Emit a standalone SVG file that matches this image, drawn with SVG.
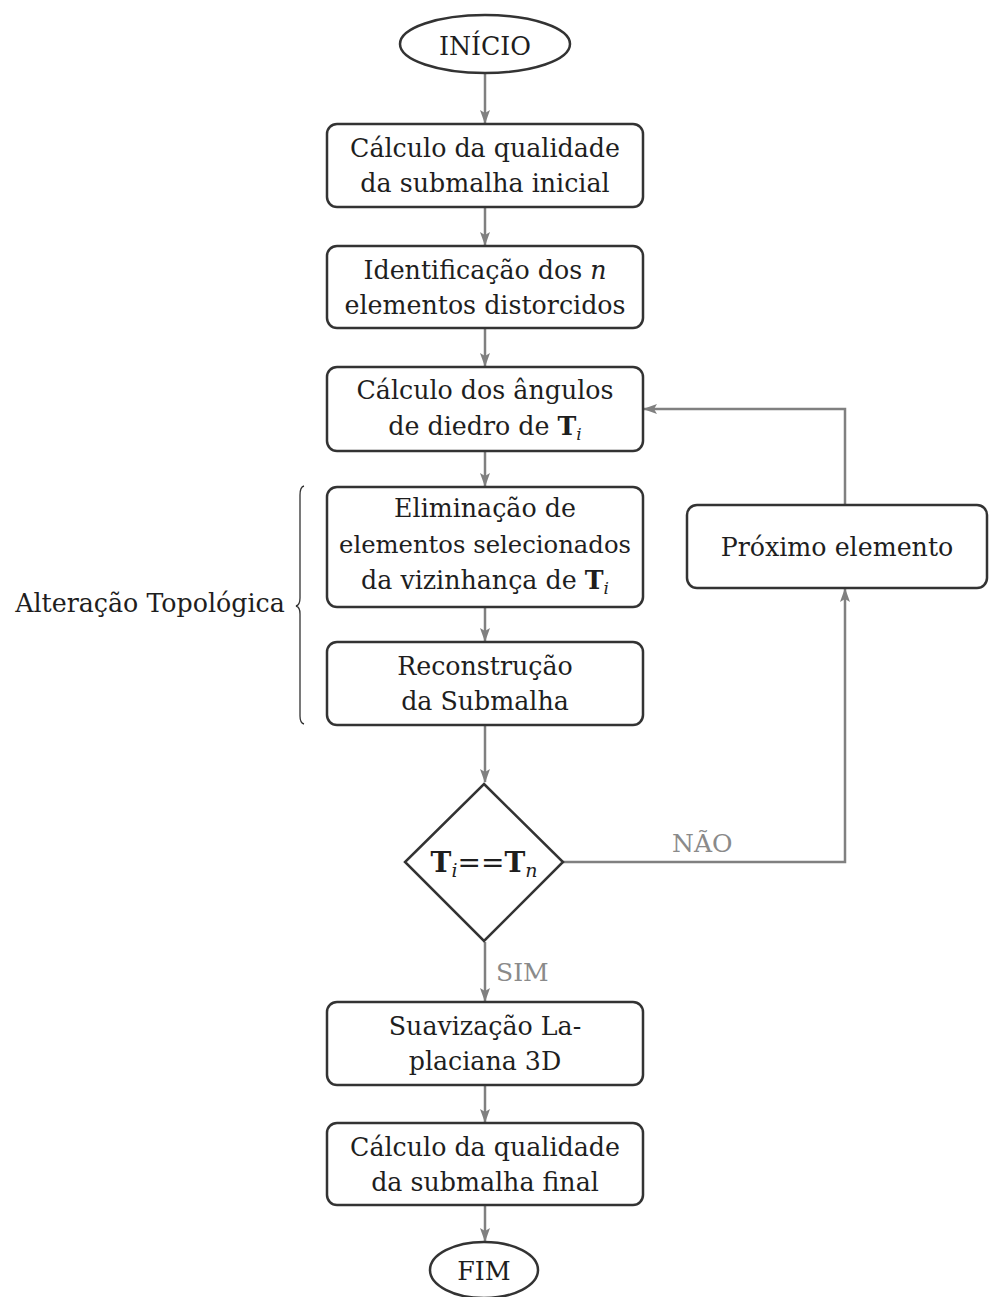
<svg xmlns="http://www.w3.org/2000/svg" width="990" height="1297" viewBox="0 0 990 1297">
<style>
.box{fill:#fff;stroke:#333;stroke-width:2.5}
.t{font-family:"DejaVu Serif","Liberation Serif",serif;font-size:25.3px;fill:#1e1e1e;text-anchor:middle}
.lbl{font-family:"DejaVu Serif","Liberation Serif",serif;font-size:25px;fill:#8a8a8a}
.c{fill:none;stroke:#808080;stroke-width:2.5}
.b{font-weight:bold}
.s{font-style:italic;font-size:17px}
</style>
<defs>
<marker id="ah" markerUnits="userSpaceOnUse" markerWidth="14" markerHeight="12" viewBox="0 0 14 12" refX="13" refY="6" orient="auto">
<path d="M0,1 L14,6 L0,11 L3,6 Z" fill="#808080"/>
</marker>
</defs>
<rect width="990" height="1297" fill="#fff"/>
<g id="connectors">
<line class="c" x1="485" y1="74" x2="485" y2="123" marker-end="url(#ah)"/>
<line class="c" x1="485" y1="208" x2="485" y2="245" marker-end="url(#ah)"/>
<line class="c" x1="485" y1="329" x2="485" y2="366" marker-end="url(#ah)"/>
<line class="c" x1="485" y1="452" x2="485" y2="486" marker-end="url(#ah)"/>
<line class="c" x1="485" y1="608" x2="485" y2="641" marker-end="url(#ah)"/>
<line class="c" x1="485" y1="726" x2="485" y2="782" marker-end="url(#ah)"/>
<line class="c" x1="485" y1="942" x2="485" y2="1001" marker-end="url(#ah)"/>
<line class="c" x1="485" y1="1086" x2="485" y2="1122" marker-end="url(#ah)"/>
<line class="c" x1="485" y1="1206" x2="485" y2="1241" marker-end="url(#ah)"/>
<polyline class="c" points="563,862 845,862 845,589" marker-end="url(#ah)"/>
<polyline class="c" points="845,505 845,409 644,409" marker-end="url(#ah)"/>
<text class="lbl" x="672" y="852">NÃO</text>
<text class="lbl" x="496" y="981">SIM</text>
</g>
<g id="inicio">
<ellipse class="box" cx="485" cy="44" rx="85" ry="29"/>
<text class="t" x="485" y="55">INÍCIO</text>
</g>
<g id="calc-inicial">
<rect class="box" x="327" y="124" width="316" height="83" rx="10"/>
<text class="t" x="485" y="157">Cálculo da qualidade</text>
<text class="t" x="485" y="192">da submalha inicial</text>
</g>
<g id="identificacao">
<rect class="box" x="327" y="246" width="316" height="82" rx="10"/>
<text class="t" x="485" y="278.5">Identificação dos <tspan font-style="italic">n</tspan></text>
<text class="t" x="485" y="313.5">elementos distorcidos</text>
</g>
<g id="angulos">
<rect class="box" x="327" y="367" width="316" height="84" rx="10"/>
<text class="t" x="485" y="399">Cálculo dos ângulos</text>
<text class="t" x="485" y="435">de diedro de <tspan class="b">T</tspan><tspan class="s" dy="5">i</tspan></text>
</g>
<g id="eliminacao">
<rect class="box" x="327" y="487" width="316" height="120" rx="10"/>
<text class="t" x="485" y="517">Eliminação de</text>
<text class="t" x="485" y="553" style="font-size:24.3px">elementos selecionados</text>
<text class="t" x="485" y="589">da vizinhança de <tspan class="b">T</tspan><tspan class="s" dy="5">i</tspan></text>
</g>
<g id="reconstrucao">
<rect class="box" x="327" y="642" width="316" height="83" rx="10"/>
<text class="t" x="485" y="675">Reconstrução</text>
<text class="t" x="485" y="710">da Submalha</text>
</g>
<g id="brace">
<path d="M304,486 Q300,487 300,495 L300,598 Q300,605 296,606 Q300,607 300,614 L300,716 Q300,723 304,724" fill="none" stroke="#333" stroke-width="1.3"/>
<text class="t" x="150" y="612">Alteração Topológica</text>
</g>
<g id="decisao">
<polygon class="box" points="484,784 563,862 484,941 405,862"/>
<text class="t" x="484" y="872" style="font-size:28px"><tspan class="b">T</tspan><tspan class="s" dy="5" style="font-size:19px">i</tspan><tspan dy="-5">==</tspan><tspan class="b">T</tspan><tspan class="s" dy="5" style="font-size:19px">n</tspan></text>
</g>
<g id="proximo">
<rect class="box" x="687" y="505" width="300" height="83" rx="10"/>
<text class="t" x="837" y="556">Próximo elemento</text>
</g>
<g id="suavizacao">
<rect class="box" x="327" y="1002" width="316" height="83" rx="10"/>
<text class="t" x="485" y="1035">Suavização La-</text>
<text class="t" x="485" y="1070">placiana 3D</text>
</g>
<g id="calc-final">
<rect class="box" x="327" y="1123" width="316" height="82" rx="10"/>
<text class="t" x="485" y="1156">Cálculo da qualidade</text>
<text class="t" x="485" y="1191">da submalha final</text>
</g>
<g id="fim">
<ellipse class="box" cx="484" cy="1270" rx="54" ry="28"/>
<text class="t" x="484" y="1280">FIM</text>
</g>
</svg>
